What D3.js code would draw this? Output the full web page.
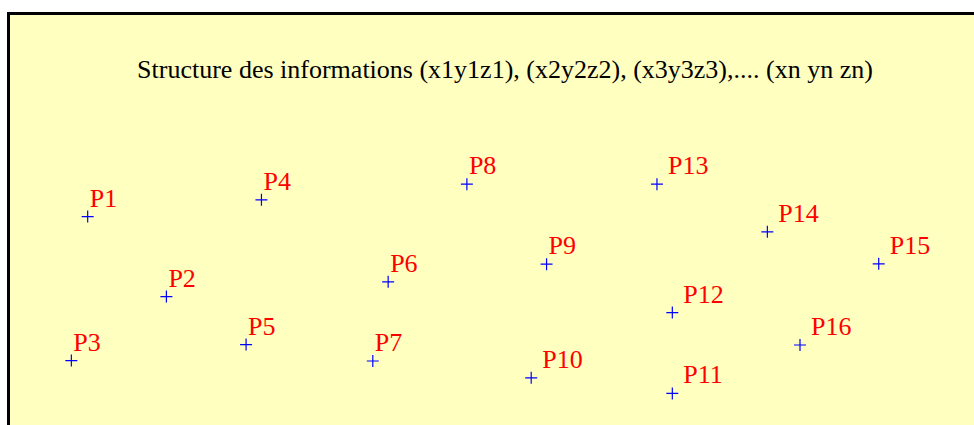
<!DOCTYPE html>
<html>
<head>
<meta charset="utf-8">
<script src="https://cdn.jsdelivr.net/npm/d3@7/dist/d3.min.js"></script>
<style>
  html, body { margin: 0; padding: 0; background: #ffffff; }
  svg { display: block; }
  .serif { font-family: "Liberation Serif", "DejaVu Serif", "Times New Roman", Times, serif; }
</style>
</head>
<body>
<div id="chart"></div>
<script>
// ---- data ----
const titleText = "Structure des informations (x1y1z1), (x2y2z2), (x3y3z3),.... (xn yn zn)";
const labels = ["P1","P2","P3","P4","P5","P6","P7","P8","P9","P10","P11","P12","P13","P14","P15","P16"];
const xValues = [8.3, 16.5, 6.6, 26.4, 24.8, 39.6, 38.0, 47.8, 56.1, 54.5, 69.2, 69.2, 67.6, 79.1, 90.7, 82.5];
const yValues = [49.1, 29.1, 13.1, 53.3, 17.1, 32.8, 13.0, 57.2, 37.2, 8.8, 4.9, 25.1, 57.2, 45.3, 37.3, 17.0];

const W = 974, H = 425;
const svg = d3.select("#chart").append("svg")
  .attr("width", W).attr("height", H);

// frame
svg.append("rect")
  .attr("x", 8.5).attr("y", 13.5)
  .attr("width", W + 20).attr("height", H + 20)
  .attr("fill", "#FFFFC0")
  .attr("stroke", "#000").attr("stroke-width", 3);

const x = d3.scaleLinear().domain([0, 100]).range([8, 968]);
const y = d3.scaleLinear().domain([0, 100]).range([413, 13]);

svg.append("text")
  .attr("class", "serif")
  .attr("x", 505).attr("y", 77.5)
  .attr("text-anchor", "middle")
  .style("font-size", "26px")
  .attr("fill", "#000")
  .text(titleText);

const pts = labels.map((l, i) => ({ label: l, x: xValues[i], y: yValues[i] }));
const g = svg.append("g");
const arm = 6;

const p = g.selectAll("g.pt").data(pts).join("g")
  .attr("class", "pt")
  .attr("transform", d => `translate(${x(d.x)},${y(d.y)})`);

p.append("path")
  .attr("d", `M${-arm},0H${arm}M0,${-arm}V${arm}`)
  .attr("stroke", "#0000FF")
  .attr("stroke-width", 1.2)
  .attr("fill", "none");

p.append("text")
  .attr("class", "serif")
  .attr("x", d => d.label.length > 2 ? 11 : 2)
  .attr("y", -10)
  .style("font-size", "26px")
  .attr("fill", "#FF0000")
  .text(d => d.label);
</script>
</body>
</html>
